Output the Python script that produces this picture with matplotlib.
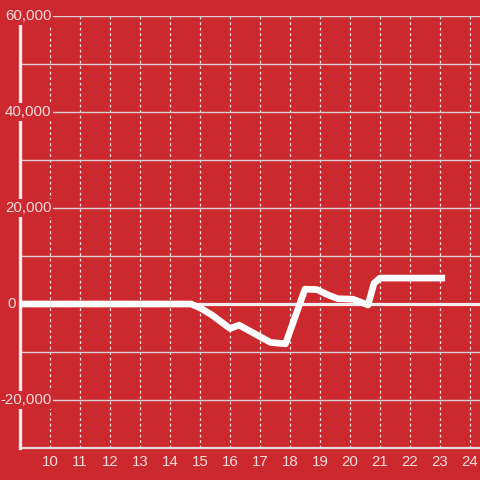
import matplotlib
matplotlib.use("Agg")
import matplotlib.pyplot as plt
import matplotlib.transforms as mtransforms

# data
x_vals = [9.0, 14.7, 15.0, 15.4, 16.0, 16.3, 17.35, 17.85, 18.5, 18.9, 19.3, 19.6, 20.1, 20.6, 20.8, 21.0, 23.17]
y_vals = [0, 0, -800, -2300, -5100, -4400, -8000, -8300, 3100, 3000, 1800, 1100, 1000, -200, 4300, 5400, 5400]
x_ticks = list(range(10, 25))
y_grid = list(range(-30000, 60001, 10000))
y_label_vals = [60000, 40000, 20000, 0, -20000]
y_label_text = ["60,000", "40,000", "20,000", "0", "-20,000"]

bg = "#cc292e"
txt = "#f6dddd"
plt.rcParams["font.family"] = ["Liberation Sans", "DejaVu Sans"]

fig = plt.figure(figsize=(4.8, 4.8), dpi=100, facecolor=bg)
ax = fig.add_axes([20 / 480, 32 / 480, 460 / 480, 432 / 480], facecolor=bg)
ax.set_xlim(9, 9 + 460 / 30)
ax.set_ylim(-30000, 60000)

for s in ax.spines.values():
    s.set_visible(False)

# gridlines
for xv in x_ticks:
    ax.axvline(xv, color="#f0e6e6", lw=0.9, ls=(0, (2.2, 2.2)), zorder=1)
for yv in y_grid:
    if yv in (-30000, 0):
        continue
    ax.axhline(yv, color="#d9d0d0", lw=1.0, zorder=1)
# bottom axis line
ax.axhline(-30000, color="#e6dcdc", lw=1.6, zorder=1.5, clip_on=False)
# zero line
ax.axhline(0, color="#f4eeee", lw=2.3, zorder=1.6, xmin=-0.005)
# left spine
ax.axvline(9, color="#f0eaea", lw=2.4, zorder=1.7, clip_on=False)

# data line
ax.plot(x_vals, y_vals, color="white", lw=4.8, solid_capstyle="butt",
        solid_joinstyle="round", zorder=3, clip_on=False)

ax.set_xticks(x_ticks)
ax.set_xticklabels([str(v) for v in x_ticks])
ax.tick_params(axis="x", length=0, pad=5, colors=txt, labelsize=10.8)
ax.set_yticks([])

# y labels
trans = mtransforms.blended_transform_factory(ax.transAxes, ax.transData)
for yv, lab in zip(y_label_vals, y_label_text):
    if yv == 0:
        xp = (16 - 20) / 460
    else:
        xp = (51.5 - 20) / 460
    ax.text(xp, yv, lab, transform=trans, ha="right", va="center",
            color=txt, fontsize=10.8, zorder=5,
            bbox=dict(facecolor=bg, edgecolor="none", pad=1.2))

fig.savefig("out.png", dpi=100, facecolor=bg)
